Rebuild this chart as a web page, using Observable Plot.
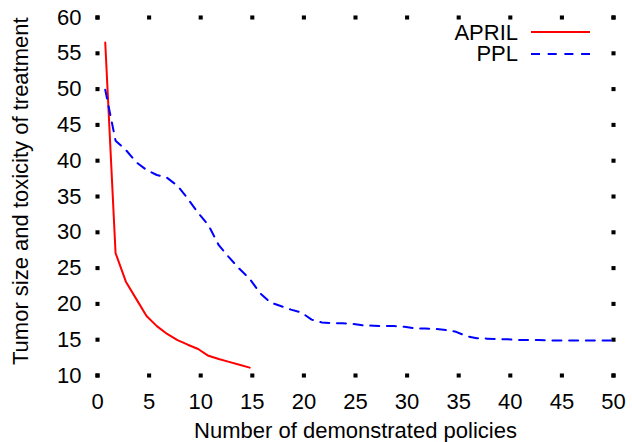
<!DOCTYPE html>
<html><head><meta charset="utf-8">
<script src="https://cdn.jsdelivr.net/npm/d3@7"></script>
<script src="https://cdn.jsdelivr.net/npm/@observablehq/plot@0.6"></script>
<style>
body{margin:0;background:#fff;}
#wrap{position:relative;width:632px;height:442px;font-family:"Liberation Sans",Arial,sans-serif;}
.legtxt{position:absolute;left:0;width:518px;text-align:right;font-size:22px;line-height:18px;color:#000;}
.legline{position:absolute;left:531px;}
</style>
</head><body><div id="wrap"></div>
<script>
// Series values (y), one per demonstrated-policy step
const seriesNames = ["APRIL", "PPL"];
const seriesColors = ["#ff0000", "#0000ff"];
const aprilY = [56.5, 27.1, 23.1, 20.7, 18.3, 16.9, 15.8, 14.95, 14.3, 13.7, 12.75, 12.3, 11.9, 11.5, 11.1];
const pplY = [49.9, 42.8, 41.5, 39.8, 38.7, 38.0, 37.6, 36.5, 34.7, 32.7,
              31.0, 28.2, 26.5, 24.9, 23.5, 21.5, 20.2, 19.7, 19.2, 18.8,
              17.8, 17.4, 17.3, 17.3, 17.2, 17.0, 16.95, 16.9, 16.9, 16.8,
              16.6, 16.55, 16.5, 16.35, 16.1, 15.5, 15.2, 15.15, 15.1, 15.05,
              14.95, 14.95, 14.95, 14.9, 14.9, 14.9, 14.9, 14.9, 14.9, 14.9];
// x position of the first step as drawn in the reference
const xStart = 0.75;
const xTicks = [0, 5, 10, 15, 20, 25, 30, 35, 40, 45, 50];
const yTicks = [10, 15, 20, 25, 30, 35, 40, 45, 50, 55, 60];
const xLabel = "Number of demonstrated policies";
const yLabel = "Tumor size and toxicity of treatment";

const april = aprilY.map((y, i) => ({x: xStart + i, y}));
const ppl = pplY.map((y, i) => ({x: xStart + i, y}));

const plot = Plot.plot({
  width: 632, height: 442,
  marginLeft: 97, marginRight: 19, marginTop: 17, marginBottom: 67,
  style: {fontFamily: '"Liberation Sans", Arial, sans-serif', fontSize: "22px", color: "#000", background: "#fff"},
  x: {domain: [0, 50]},
  y: {domain: [10, 60]},
  marks: [
    Plot.axisX({ticks: xTicks, tickSize: 0, tickPadding: 18, tickFormat: d => String(d), label: null}),
    Plot.axisY({ticks: yTicks, tickSize: 0, tickPadding: 16, tickFormat: d => String(d), label: null}),
    Plot.text([xLabel], {text: d => d, frameAnchor: "bottom", textAnchor: "middle", lineAnchor: "bottom", dy: 62.5, fill: "#000"}),
    Plot.text([yLabel], {text: d => d, frameAnchor: "left", textAnchor: "middle", lineAnchor: "bottom", rotate: -90, dx: -69.5, dy: -5.3, fill: "#000"}),
    Plot.dot(xTicks, {x: d => d, frameAnchor: "bottom", symbol: "square", r: 2.3, fill: "#000", stroke: null}),
    Plot.dot(xTicks, {x: d => d, frameAnchor: "top", symbol: "square", r: 2.3, fill: "#000", stroke: null}),
    Plot.dot(yTicks, {y: d => d, frameAnchor: "left", symbol: "square", r: 2.3, fill: "#000", stroke: null}),
    Plot.dot(yTicks, {y: d => d, frameAnchor: "right", symbol: "square", r: 2.3, fill: "#000", stroke: null}),
    Plot.line(april, {x: "x", y: "y", stroke: seriesColors[0], strokeWidth: 2}),
    Plot.line(ppl, {x: "x", y: "y", stroke: seriesColors[1], strokeWidth: 2, strokeDasharray: "9,7.7"})
  ]
});
const wrap = document.getElementById("wrap");
wrap.appendChild(plot);

// legend
const legTop = [23.8, 45.3];
const legLineY = [32.3, 54];
seriesNames.forEach((name, i) => {
  const t = document.createElement("div");
  t.className = "legtxt";
  t.style.top = legTop[i] + "px";
  t.textContent = name;
  wrap.appendChild(t);
  const s = document.createElementNS("http://www.w3.org/2000/svg", "svg");
  s.setAttribute("class", "legline");
  s.setAttribute("width", "59"); s.setAttribute("height", "4");
  s.style.top = (legLineY[i] - 2) + "px";
  const l = document.createElementNS("http://www.w3.org/2000/svg", "line");
  l.setAttribute("x1", "0"); l.setAttribute("x2", "59");
  l.setAttribute("y1", "2"); l.setAttribute("y2", "2");
  l.setAttribute("stroke", seriesColors[i]); l.setAttribute("stroke-width", "2");
  if (i === 1) l.setAttribute("stroke-dasharray", "9,7.7");
  s.appendChild(l);
  wrap.appendChild(s);
});
</script>
</body></html>
